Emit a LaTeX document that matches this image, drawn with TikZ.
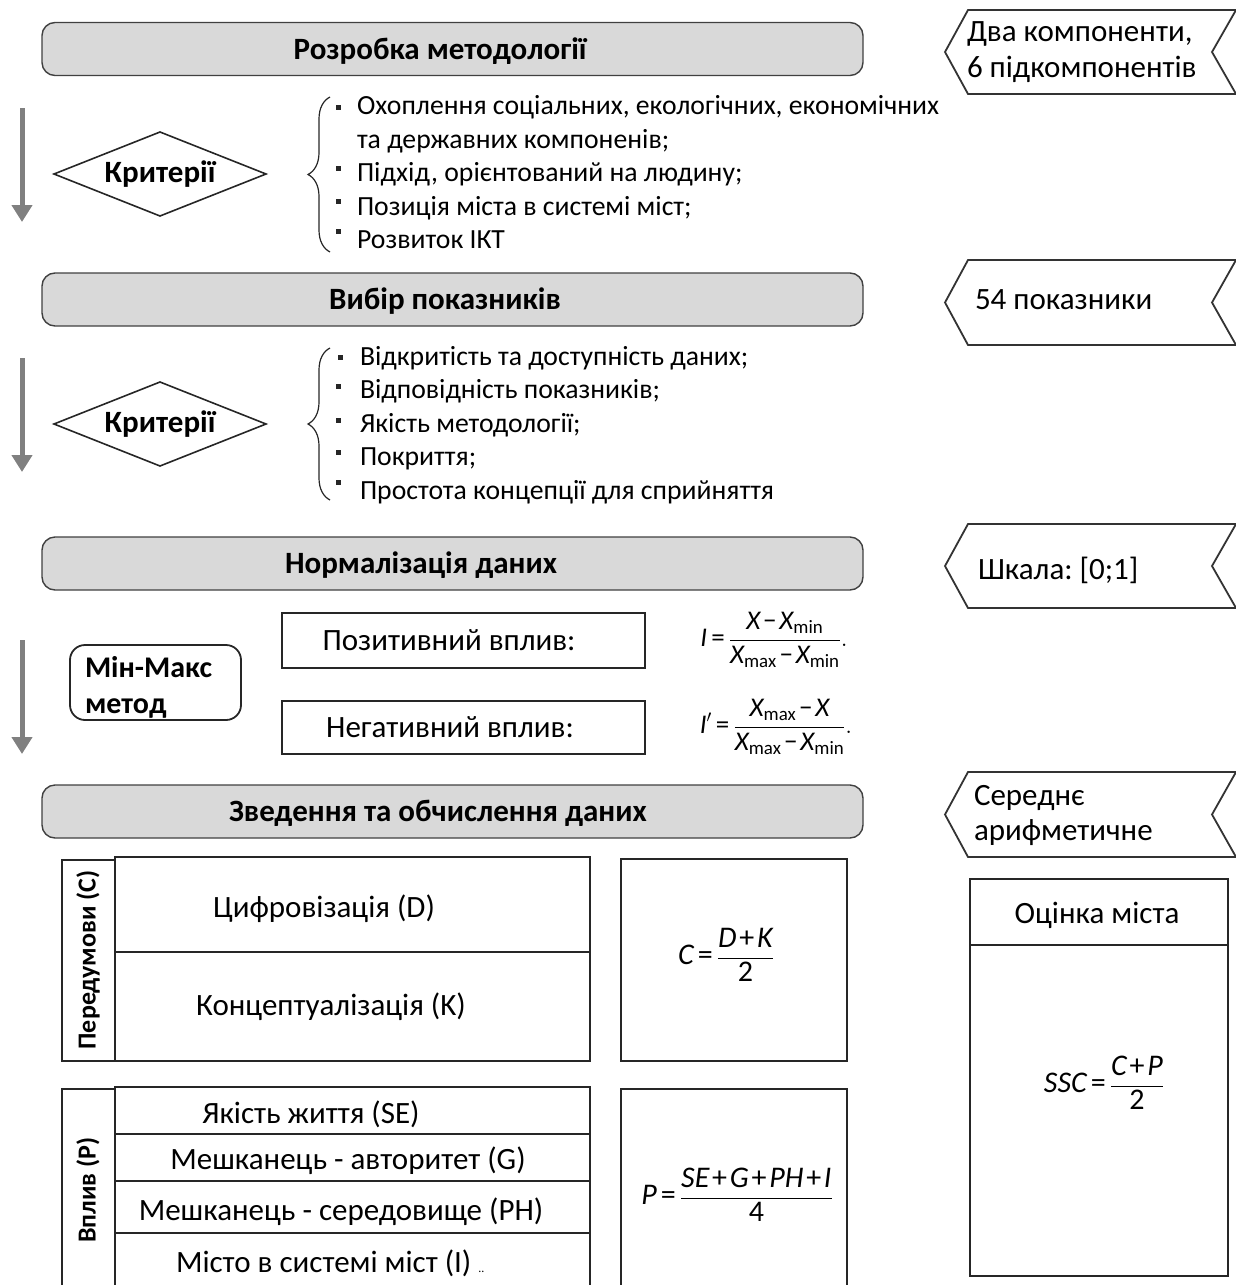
\documentclass[tikz,border=0pt]{standalone}
\usepackage{fontspec}
\usepackage{amsmath}
\setmainfont{Carlito}
\frenchspacing
\usetikzlibrary{arrows.meta,decorations.pathreplacing,shapes.geometric}

\newcommand\fbody{\fontsize{27.7}{33}\selectfont}
\newcommand\fbig{\fontsize{31}{36}\selectfont}
\newcommand\fhead{\fontsize{31}{36}\selectfont\bfseries}
\newcommand\fmm{\fontsize{30}{36}\selectfont\bfseries}
\newcommand\fside{\fontsize{26}{30}\selectfont\bfseries}
\newcommand\fform{\fontsize{27}{31}\selectfont}
\newcommand\fformb{\fontsize{30}{34}\selectfont}
% formula pieces set in the text face, with tight operator spacing
\newcommand\mv[1]{\text{\itshape #1}}
\newcommand\nm[1]{\text{#1}}
\newcommand\opeq{\mkern3mu\text{=}\mkern3mu}
\newcommand\oppl{\mkern2mu\text{+}\mkern2mu}
\newcommand\opmi{\mkern2mu\text{−}\mkern2mu}
% left-pointing tag with a notched right end: top y, bottom y
\newcommand\drawtag[2]{%
  \draw[tagline] (945,{(#1+#2)/2}) -- (968,#1) -- (1236,#1) -- (1212,{(#1+#2)/2})
    -- (1236,#2) -- (968,#2) -- cycle;}

\begin{document}
\begin{tikzpicture}[x=1pt,y=-1pt,
  every node/.style={inner sep=0pt, outer sep=0pt, font=\fbig},
  header/.style={draw=black!75, line width=1.4, fill=black!15, rounded corners=13,
    minimum width=821, minimum height=53},
  htext/.style={anchor=base, font=\fhead},
  flow/.style={draw=black!50, line width=5, -{Triangle[width=20,length=17]}},
  crit/.style={diamond, draw=black!85, line width=1.6, aspect=2.52,
    minimum width=212, minimum height=84, font=\fhead},
  curly/.style={draw=black!85, line width=1.2, decorate,
    decoration={brace, amplitude=22}},
  item/.style={anchor=base west},
  litem/.style={anchor=base west, font=\fbody},
  dot/.style={fill=black!85},
  tagline/.style={draw=black!80, line width=1.8, fill=white},
  box/.style={draw=black!85, line width=2.4},
  cell/.style={anchor=base},
  side/.style={rotate=90, font=\fside},
  form/.style={font=\fform},
  formb/.style={font=\fformb}
]
\path[use as bounding box] (0,0) rectangle (1236,1285);
\clip (0,0) rectangle (1236,1285);

% ---------- stage headers ----------
\node[header] (h1) at (452.5,49) {};
\node[htext] (h1t) at (440,59) {Розробка методології};
\node[header] (h2) at (452.5,299.5) {};
\node[htext] (h2t) at (445,309) {Вибір показників};
\node[header] (h3) at (452.5,563.5) {};
\node[htext] (h3t) at (421,573) {Нормалізація даних};
\node[header] (h4) at (452.5,811.5) {};
\node[htext] (h4t) at (438,821) {Зведення та обчислення даних};

% ---------- side tags ----------
\drawtag{10}{94}
\node[item] (t1a) at (967,41) {Два компоненти,};
\node[item] (t1b) at (967,77) {6 підкомпонентів};
\drawtag{260}{345}
\node[item] (t2) at (975,309) {54 показники};
\drawtag{524}{608}
\node[item] (t3) at (978,579) {Шкала: [0;1]};
\drawtag{772}{857}
\node[item] (t4a) at (974,805) {Середнє};
\node[item] (t4b) at (974,840) {арифметичне};

% ---------- flow arrows ----------
\coordinate (a1s) at (22,108); \coordinate (a1e) at (22,222);
\coordinate (a2s) at (22,358); \coordinate (a2e) at (22,472);
\coordinate (a3s) at (22,640); \coordinate (a3e) at (22,754);
\draw[flow] (a1s) -- (a1e);
\draw[flow] (a2s) -- (a2e);
\draw[flow] (a3s) -- (a3e);

% ---------- criteria 1 ----------
\node[crit] (c1) at (160,174) {Критерії};
\coordinate (b1b) at (330,252); \coordinate (b1t) at (330,97);
\draw[curly] (b1b) -- (b1t);
\fill[dot] (336,105) rectangle +(5,5);
\fill[dot] (336,166) rectangle +(5,5);
\fill[dot] (336,199) rectangle +(5,5);
\fill[dot] (336,229) rectangle +(5,5);
\node[litem] (i11) at (357,114) {Охоплення соціальних, екологічних, економічних};
\node[litem] (i12) at (357,148) {та державних компоненів;};
\node[litem] (i13) at (357,181) {Підхід, орієнтований на людину;};
\node[litem] (i14) at (357,215) {Позиція міста в системі міст;};
\node[litem] (i15) at (357,248) {Розвиток ІКТ};

% ---------- criteria 2 ----------
\node[crit] (c2) at (160,424) {Критерії};
\coordinate (b2b) at (330,500); \coordinate (b2t) at (330,348);
\draw[curly] (b2b) -- (b2t);
\fill[dot] (338,355) rectangle +(5,5);
\fill[dot] (336,384) rectangle +(5,5);
\fill[dot] (336,418) rectangle +(5,5);
\fill[dot] (336,450) rectangle +(5,5);
\fill[dot] (336,480) rectangle +(5,5);
\node[litem] (i21) at (360,365) {Відкритість та доступність даних;};
\node[litem] (i22) at (360,398) {Відповідність показників;};
\node[litem] (i23) at (360,432) {Якість методології;};
\node[litem] (i24) at (360,465) {Покриття;};
\node[litem] (i25) at (360,499) {Простота концепції для сприйняття};

% ---------- normalisation ----------
\node[box, line width=1.8, rounded corners=15, minimum width=171, minimum height=75,
  anchor=north west] (mm) at (70,645) {};
\node[item, font=\fmm] (mm1) at (85,677) {Мін-Макс};
\node[item, font=\fmm] (mm2) at (85,713) {метод};

\node[box, minimum width=363, minimum height=55, anchor=north west] (pos) at (282,613) {};
\node[cell] (post) at (449,650) {Позитивний вплив:};
\node[box, minimum width=363, minimum height=53, anchor=north west] (neg) at (282,701) {};
\node[cell] (negt) at (450,737) {Негативний вплив:};

\node[form] (fpos) at (774,640)
  {$\mv{I}\opeq\dfrac{\mv{X}\opmi\mv{X}_{\nm{min}}}{\mv{X}_{\nm{max}}\opmi\mv{X}_{\nm{min}}}.$};
\node[form] (fneg) at (776,727)
  {$\mv{I}'\opeq\dfrac{\mv{X}_{\nm{max}}\opmi\mv{X}}{\mv{X}_{\nm{max}}\opmi\mv{X}_{\nm{min}}}.$};

% ---------- prerequisites (C) ----------
\node[box, minimum width=53, minimum height=201, anchor=north west] (sc) at (62,860) {};
\node[side] (sct) at (88,960) {Передумови (C)};
\node[box, minimum width=475, minimum height=95, anchor=north west] (cD) at (115,857) {};
\node[box, minimum width=475, minimum height=109, anchor=north west] (cK) at (115,952) {};
\node[cell] (cDt) at (324,917) {Цифровізація (D)};
\node[cell] (cKt) at (331,1015) {Концептуалізація (K)};
\node[box, minimum width=226, minimum height=202, anchor=north west] (fC) at (621,859) {};
\node[formb] (fCt) at (726,955) {$\mv{C}\opeq\dfrac{\mv{D}\oppl\mv{K}}{\nm{2}}$};

% ---------- impact (P) ----------
\node[box, minimum width=53, minimum height=220, anchor=north west] (sp) at (62,1089) {};
\node[side] (spt) at (88,1190) {Вплив (P)};
\node[box, minimum width=475, minimum height=47, anchor=north west] (pSE) at (115,1087) {};
\node[box, minimum width=475, minimum height=47, anchor=north west] (pG) at (115,1134) {};
\node[box, minimum width=475, minimum height=52, anchor=north west] (pPH) at (115,1181) {};
\node[box, minimum width=475, minimum height=80, anchor=north west] (pI) at (115,1233) {};
\node[cell] (pSEt) at (311,1123) {Якість життя (SE)};
\node[cell] (pGt) at (348,1169) {Мешканець - авторитет (G)};
\node[cell] (pPHt) at (341,1220) {Мешканець - середовище (PH)};
\node[item] (pIt) at (176,1272) {Місто в системі міст (I) {\fontsize{12}{14}\selectfont ..}};
\node[box, minimum width=226, minimum height=230, anchor=north west] (fP) at (621,1089) {};
\node[formb] (fPt) at (737,1195)
  {$\mv{P}\opeq\dfrac{\mv{SE}\oppl\mv{G}\oppl\mv{PH}\oppl\mv{I}}{\nm{4}}$};

% ---------- city score ----------
\node[box, minimum width=258, minimum height=66, anchor=north west] (ssh) at (970,879) {};
\node[box, minimum width=258, minimum height=331, anchor=north west] (ssb) at (970,945) {};
\node[cell] (ssht) at (1097,923) {Оцінка міста};
\node[formb] (ssf) at (1104,1083) {$\mv{SSC}\opeq\dfrac{\mv{C}\oppl\mv{P}}{\nm{2}}$};
\end{tikzpicture}
\end{document}
